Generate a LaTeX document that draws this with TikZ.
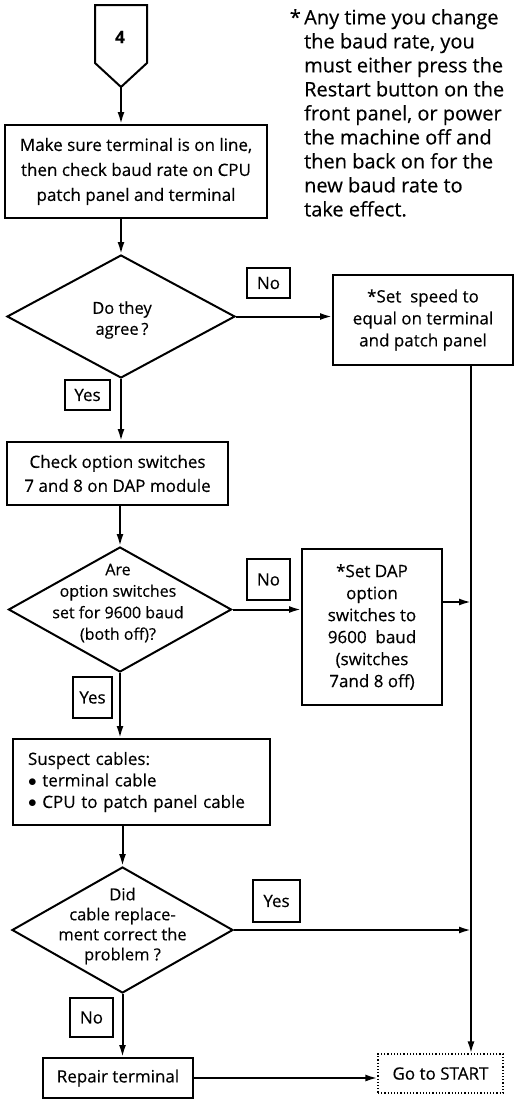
\documentclass[tikz,border=0pt]{standalone}
\usepackage{fontspec}
\setmainfont{Open Sans}[FakeBold=0.35]
\usetikzlibrary{shapes.geometric,arrows.meta}

\begin{document}
\begin{tikzpicture}[x=1pt,y=-1pt,
  txt/.style={font=\fontsize{17}{24}\selectfont, align=center, inner sep=0pt},
  box/.style={draw, line width=2pt, rectangle, inner sep=0pt, txt},
  dia/.style={draw, diamond, line width=2pt, inner sep=0pt},
  tag/.style={draw, line width=2pt, rectangle, inner sep=0pt, txt},
  ln/.style={line width=2pt},
  arr/.style={line width=2pt, -{Latex[length=12pt,width=7pt]}}]
\useasboundingbox (0,0) rectangle (516,1101);

% entry connector
\draw[ln, line join=miter] (95,5) -- (147,5) -- (147,63) -- (121,87) -- (95,63) -- cycle;
\node[font=\fontsize{17}{20}\selectfont\bfseries] (n4) at (120,37) {4};
\coordinate (tip) at (121,87);

% note
\node[txt, font=\fontsize{20}{24}\selectfont, align=left, anchor=north west] (note) at (304,9)
  {\llap{*\,}Any time you change\\the baud rate, you\\must either press the\\Restart button on the\\front panel, or power\\the machine off and\\then back on for the\\new baud rate to\\take effect.};

% steps
\node[box, font=\fontsize{17}{25}\selectfont, minimum width=262, minimum height=93] (b1) at (136,171.5)
  {Make sure terminal is on line,\\then check baud rate on CPU\\patch panel and terminal};

\node[dia, minimum width=228, minimum height=123] (d1) at (121,316.5) {};
\node[txt, font=\fontsize{16.5}{21}\selectfont] (d1t) at (122,320) {Do they\\agree\,?};

\node[box, font=\fontsize{17}{22}\selectfont, minimum width=180, minimum height=90] (speed) at (423,320)
  {*Set\ \ speed to\\equal on terminal\\and patch panel};

\node[tag, minimum width=43, minimum height=30] (no1) at (268.5,283) {No};
\node[tag, minimum width=45, minimum height=30] (yes1) at (87.5,395) {Yes};

\node[box, minimum width=221, minimum height=63] (b2) at (117.5,473.5)
  {Check option switches\\7 and 8 on DAP module};

\node[dia, minimum width=223, minimum height=125] (d2) at (120,609.5) {};
\node[txt, font=\fontsize{16}{21.5}\selectfont] (d2t) at (118,603)
  {Are\\option switches\\set for 9600 baud\\(both off)?};

\node[tag, minimum width=43, minimum height=41] (no2) at (268.5,579.5) {No};

\node[box, font=\fontsize{17}{22}\selectfont, minimum width=140, minimum height=156] (b3) at (372,627)
  {*Set DAP\\option\\switches to\\9600\ \ baud\\(switches\\7and 8 off)};

\node[tag, minimum width=39, minimum height=41] (yes2) at (92.5,697.5) {Yes};

\node[box, align=left, font=\fontsize{17}{21.5}\selectfont, minimum width=257, minimum height=86, text width=226] (b4) at (141,782)
  {Suspect cables:\\$\bullet$\ terminal cable\\$\bullet$\ CPU to patch panel cable};

\node[dia, minimum width=221, minimum height=126] (d3) at (122.5,930) {};
\node[txt, font=\fontsize{16.5}{20}\selectfont] (d3t) at (122.5,926)
  {Did\\cable replace-\\ment correct the\\problem ?};

\node[tag, minimum width=47, minimum height=42] (yes3) at (276.5,901) {Yes};
\node[tag, minimum width=43, minimum height=39] (no3) at (91.5,1017.5) {No};

\node[box, minimum width=150, minimum height=40] (rep) at (118,1078) {Repair terminal};
\node[draw, dotted, line width=1.2pt, rectangle, inner sep=0pt, txt,
      minimum width=125, minimum height=39] (start) at (440.5,1073.5) {Go to START};

% return rail
\coordinate (rail) at (471,0);
\coordinate (j2) at (471,602);

% connectors
\draw[arr] (tip) -- (tip |- b1.north);
\draw[arr] (b1.south -| d1.north) -- (d1.north);
\draw[arr] (d1.east) -- (speed.west |- d1.east);
\draw[arr] (d1.south) -- (d1.south |- b2.north);
\draw[arr] (d2.north |- b2.south) -- (d2.north);
\draw[arr] (d2.east) -- (b3.west |- d2.east);
\draw[arr] (b3.east |- j2) -- (j2);
\draw[arr] (d2.south) -- (d2.south |- b4.north);
\draw[arr] (d3.north |- b4.south) -- (d3.north);
\draw[arr] (d3.east) -- (d3.east -| rail);
\draw[arr] (d3.south) -- (d3.south |- rep.north);
\draw[arr] (rep.east) -- (start.west |- rep.east);
\draw[arr] (speed.south -| rail) -- (start.north -| rail);
\end{tikzpicture}
\end{document}
